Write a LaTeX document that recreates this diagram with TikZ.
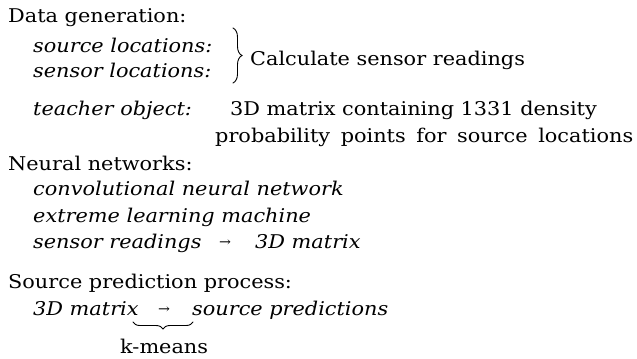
\documentclass[tikz,border=0pt]{standalone}
\usepackage{fontspec}
\setmainfont{DejaVu Serif}[FakeStretch=1.1]
\usetikzlibrary{decorations.pathreplacing}
\begin{document}
\begin{tikzpicture}[x=1bp,y=-1bp,
  txt/.style={anchor=base west,inner sep=0pt,font=\fontsize{19}{22}\selectfont},
  itx/.style={txt,font=\fontsize{19}{22}\selectfont\itshape},
  arr/.style={anchor=base west,inner sep=0pt,font=\fontsize{13}{16}\selectfont},
  bracestyle/.style={decorate,line width=0.9bp,line cap=round}]
\useasboundingbox (0,0) rectangle (637,358);
\node[txt] (dg) at (8,22) {Data generation:};
\node[itx] (srcl) at (33,52) {source locations:};
\node[itx] (senl) at (33,77) {sensor locations:};
\node[txt] (calc) at (250,65) {Calculate sensor readings};
\node[itx] (teach) at (33,115) {teacher object:};
\node[txt] (m1) at (230,115) {3D matrix containing 1331 density};
\node[txt] (m2) at (215,142) {\makebox[418bp][s]{probability points for source locations}};
\node[txt] (nn) at (8,170) {Neural networks:};
\node[itx] (cnn) at (33,195) {convolutional neural network};
\node[itx] (elm) at (33,222) {extreme learning machine};
\node[itx] (sr) at (33,248) {sensor readings};
\node[arr] (ar1) at (219,246) {→};
\node[itx] (m3) at (255,248) {3D matrix};
\node[txt] (sp) at (8,288) {Source prediction process:};
\node[itx] (m4) at (33,315) {3D matrix};
\node[arr] (ar2) at (158,313) {→};
\node[itx] (pred) at (192,315) {source predictions};
\node[txt] (km) at (120,353) {k-means};
\coordinate (b1t) at (233,28);
\coordinate (b1b) at (233,83);
\draw[bracestyle,decoration={brace,amplitude=9bp}] (b1t) -- (b1b);
\coordinate (b2l) at (133,322);
\coordinate (b2r) at (193,322);
\draw[bracestyle,decoration={brace,mirror,amplitude=7bp}] (b2l) -- (b2r);
\end{tikzpicture}
\end{document}
